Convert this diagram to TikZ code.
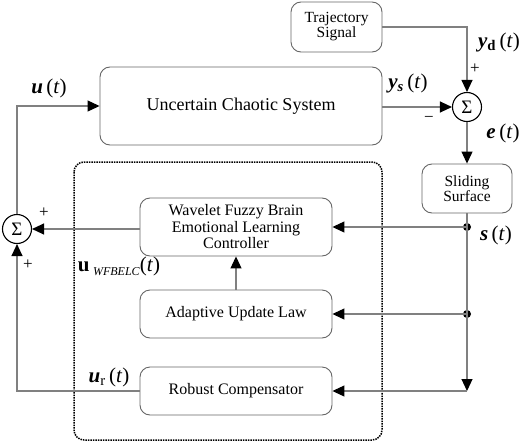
\documentclass[tikz,border=0pt]{standalone}
\usepackage{fontspec}
\setmainfont{Liberation Serif}
\usetikzlibrary{arrows.meta}
\begin{document}
\begin{tikzpicture}[x=1pt,y=-1pt,
  blk/.style={draw=black!60, line width=0.9pt, rounded corners=10pt, fill=white, align=center, inner sep=0pt},
  sumc/.style={draw=black, line width=1.1pt, circle, minimum size=29pt, inner sep=0pt, font=\fontsize{19}{19}\selectfont},
  conn/.style={draw=black!50, line width=1.1pt},
  arr/.style={conn, -{Triangle[length=12pt,width=11pt,color=black,fill=black]}},
  jdot/.style={circle, fill=black, inner sep=0pt, minimum size=8pt},
  lbl/.style={font=\fontsize{21}{21}\selectfont, inner sep=0pt},
  sgn/.style={font=\fontsize{17}{17}\selectfont, inner sep=0pt},
  txt/.style={font=\fontsize{16}{16.5}\selectfont}
]
\useasboundingbox (0,0) rectangle (529,444);
% dotted frame
\draw[black, line width=1.5pt, densely dotted, rounded corners=10pt] (74,162) rectangle (382,440);
% blocks
\node[blk, minimum width=91pt, minimum height=50pt, font=\fontsize{15.5}{15}\selectfont] (traj) at (336.5,27) {Trajectory\\Signal};
\node[blk, minimum width=282pt, minimum height=78pt, font=\fontsize{18}{18}\selectfont] (sys) at (241,106) {Uncertain Chaotic System};
\node[sumc] (s1) at (467,107) {Σ};
\node[blk, minimum width=90pt, minimum height=49pt, font=\fontsize{15.5}{15}\selectfont] (slide) at (467,188.5) {Sliding\\Surface};
\node[blk, minimum width=192pt, minimum height=58pt, txt] (wf) at (236,227) {Wavelet Fuzzy Brain\\Emotional Learning\\Controller};
\node[blk, minimum width=192pt, minimum height=48pt, txt] (adp) at (236,314) {Adaptive Update Law};
\node[blk, minimum width=192pt, minimum height=48pt, txt] (rob) at (236,391) {Robust Compensator};
\node[sumc] (s2) at (17,229) {Σ};
\node[jdot] (d1) at (467,227) {};
\node[jdot] (d2) at (467,314) {};
\coordinate (c1) at (467,391);
% connectors
\draw[arr] (traj.east) -| (s1.north);
\draw[arr] (sys.east |- s1.west) -- (s1.west);
\draw[arr] (s1.south) -- (slide.north);
\draw[conn] (slide.south) -- (d1.center) -- (d2.center);
\draw[arr] (d2.center) -- (c1);
\draw[arr] (c1) -- (rob.east);
\draw[arr] (d1.center) -- (wf.east);
\draw[arr] (d2.center) -- (adp.east);
\draw[arr] (adp.north) -- (wf.south);
\draw[arr] (wf.west |- s2.east) -- (s2.east);
\draw[arr] (rob.west) -| (s2.south);
\draw[arr] (s2.north) |- (sys.west);
% labels
\node[sgn] (p1) at (475,69) {+};
\node[sgn] (m1) at (429,119) {−};
\node[sgn] (p2) at (44,213) {+};
\node[sgn] (p3) at (28,265) {+};
\node[lbl] (lyd) at (499,42) {\textbf{\textit{y}}\textsubscript{\textbf{d}}\,(\textit{t})};
\node[lbl] (lys) at (408,83) {\textbf{\textit{y}}\textsubscript{\textbf{\textit{s}}}\,(\textit{t})};
\node[lbl] (le) at (503,133) {\textbf{\textit{e}}\,(\textit{t})};
\node[lbl] (ls) at (496,235) {\textbf{\textit{s}}\,(\textit{t})};
\node[lbl] (lu) at (49,88) {\textbf{\textit{u}}\,(\textit{t})};
\node[lbl] (lur) at (109,377) {\textbf{\textit{u}}\textsubscript{r}\,(\textit{t})};
\node[lbl] (luw) at (119,266) {\textbf{u}\,{\fontsize{12}{12}\selectfont\raisebox{-4pt}{\textit{WFBELC}}}(\textit{t})};
\end{tikzpicture}
\end{document}
